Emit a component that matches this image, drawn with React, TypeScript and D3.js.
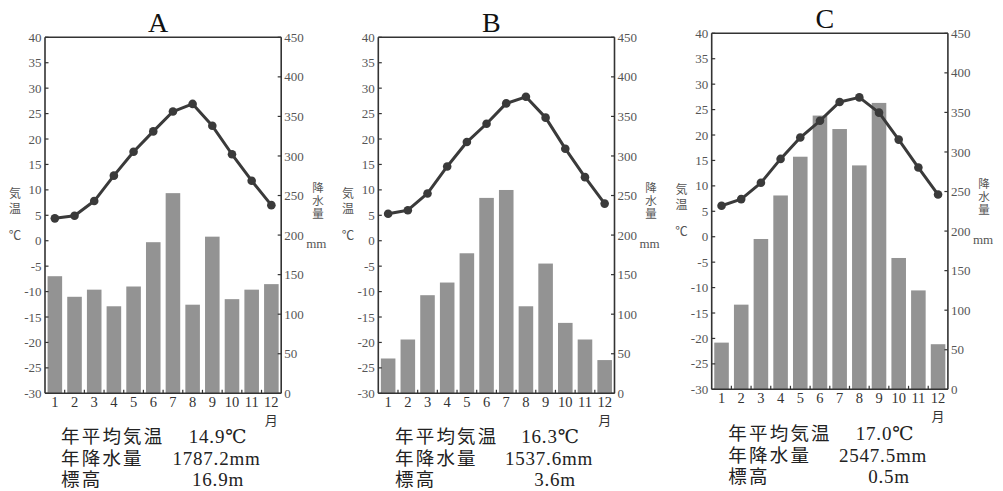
import React from 'react';
import * as d3 from 'd3';

const months = ['1', '2', '3', '4', '5', '6', '7', '8', '9', '10', '11', '12'];
const panelNames = ['A', 'B', 'C'];

const tempA = [4.4, 4.9, 7.8, 12.8, 17.5, 21.5, 25.4, 26.9, 22.6, 17.0, 11.8, 7.0];
const precipA = [148, 122, 131, 110, 135, 191, 253, 112, 198, 119, 131, 138];
const tempB = [5.3, 6.0, 9.3, 14.6, 19.4, 23.0, 27.0, 28.3, 24.2, 18.1, 12.5, 7.3];
const precipB = [44, 68, 124, 140, 177, 247, 257, 110, 164, 89, 68, 42];
const tempC = [6.1, 7.4, 10.6, 15.3, 19.5, 22.8, 26.5, 27.4, 24.4, 19.1, 13.6, 8.3];
const precipC = [59, 107, 190, 245, 294, 346, 329, 283, 362, 166, 125, 57];

const tempTicks = [-30, -25, -20, -15, -10, -5, 0, 5, 10, 15, 20, 25, 30, 35, 40];
const precipTicks = [0, 50, 100, 150, 200, 250, 300, 350, 400, 450];

const summaryLabels = ['年平均気温', '年降水量', '標高'];
const meanTemps = ['14.9℃', '16.3℃', '17.0℃'];
const annualPrecips = ['1787.2mm', '1537.6mm', '2547.5mm'];
const elevations = ['16.9m', '3.6m', '0.5m'];
const tempName = ['気', '温'];
const precipName = ['降', '水', '量'];

const temps = [tempA, tempB, tempC];
const precips = [precipA, precipB, precipC];

// layout (positions only)
const layouts = [
  { left: 45, top: 37.3, titleY: 32, rightLabelX: 318, leftLabelX: 15, textX: 61, valueCX: [218, 216.5, 218], textY: [436, 458, 479] },
  { left: 378.3, top: 37.3, titleY: 32, rightLabelX: 651, leftLabelX: 348, textX: 395, valueCX: [550.5, 549, 555], textY: [436.5, 458, 479] },
  { left: 711.7, top: 33.3, titleY: 27.5, rightLabelX: 984, leftLabelX: 681.5, textX: 728.3, valueCX: [885, 883, 889], textY: [433.5, 455, 476] },
];
const plotW = 236.2;
const plotH = 356;

const serif = '"Liberation Serif", "DejaVu Serif", "Noto Sans CJK JP", serif';
const cjk = '"Noto Sans CJK JP", "Liberation Serif", serif';

function Panel({ idx }: { idx: number }) {
  const L = layouts[idx];
  const x0 = L.left;
  const x1 = L.left + plotW;
  const y0 = L.top;
  const y1 = L.top + plotH;
  const x = d3.scaleBand<string>().domain(months).range([x0, x1]).paddingInner(0.26).paddingOuter(0.13);
  const step = plotW / months.length;
  const yT = d3.scaleLinear().domain([-30, 40]).range([y1, y0]);
  const yP = d3.scaleLinear().domain([0, 450]).range([y1, y0]);
  const line = d3
    .line<number>()
    .x((_, i) => (x(months[i]) as number) + x.bandwidth() / 2)
    .y((d) => yT(d));
  const axisColor = '#333';
  const tickColor = '#555';
  const t = temps[idx];
  const p = precips[idx];
  return (
    <g>
      <text x={(x0 + x1) / 2 - 5} y={L.titleY} textAnchor="middle" fontFamily={serif} fontSize={28} fill="#111">
        {panelNames[idx]}
      </text>
      {p.map((v, i) => (
        <rect key={'b' + i} x={x(months[i])} y={yP(v)} width={x.bandwidth()} height={y1 - yP(v)} fill="#939393" />
      ))}
      <path d={line(t) || ''} fill="none" stroke="#3a3a3a" strokeWidth={3} strokeLinejoin="round" />
      {t.map((v, i) => (
        <circle key={'c' + i} cx={(x(months[i]) as number) + x.bandwidth() / 2} cy={yT(v)} r={4.3} fill="#3a3a3a" />
      ))}
      {/* frame */}
      <line x1={x0} x2={x1} y1={y0} y2={y0} stroke={axisColor} strokeWidth={1.6} />
      <line x1={x0} x2={x0} y1={y0} y2={y1} stroke={axisColor} strokeWidth={1.6} />
      <line x1={x1} x2={x1} y1={y0} y2={y1} stroke={axisColor} strokeWidth={1.6} />
      <line x1={x0} x2={x1} y1={y1} y2={y1} stroke={axisColor} strokeWidth={1.6} />
      {/* left ticks */}
      {tempTicks.map((v) => (
        <g key={'lt' + v}>
          <line x1={x0} x2={x0 + 3.5} y1={yT(v)} y2={yT(v)} stroke={axisColor} strokeWidth={1.2} />
          <text x={x0 - 3.5} y={yT(v)} dy="0.35em" textAnchor="end" fontFamily={serif} fontSize={13} fill={tickColor}>
            {v}
          </text>
        </g>
      ))}
      {/* right ticks */}
      {precipTicks.map((v) => (
        <g key={'rt' + v}>
          <line x1={x1 - 3.5} x2={x1} y1={yP(v)} y2={yP(v)} stroke={axisColor} strokeWidth={1.2} />
          <text x={x1 + 3} y={yP(v)} dy="0.35em" textAnchor="start" fontFamily={serif} fontSize={13} fill={tickColor}>
            {v}
          </text>
        </g>
      ))}
      {/* bottom ticks */}
      {months.slice(1).map((m, i) => (
        <line key={'bt' + m} x1={x0 + step * (i + 1)} x2={x0 + step * (i + 1)} y1={y1} y2={y1 - 3.5} stroke={axisColor} strokeWidth={1.2} />
      ))}
      {months.map((m) => (
        <text key={'xl' + m} x={(x(m) as number) + x.bandwidth() / 2} y={y1 + 9} dy="0.35em" textAnchor="middle" fontFamily={serif} fontSize={14.5} fill="#333">
          {m}
        </text>
      ))}
      <text x={(x(months[11]) as number) + x.bandwidth() / 2} y={y1 + 27} dy="0.35em" textAnchor="middle" fontFamily={cjk} fontSize={13} fill="#333">
        月
      </text>
      {/* axis names */}
      {tempName.map((c, i) => (
        <text key={'tn' + i} x={L.leftLabelX} y={yT(10) + 3.5 + i * 15.5} dy="0.35em" textAnchor="middle" fontFamily={cjk} fontSize={12} fill={tickColor}>
          {c}
        </text>
      ))}
      <text x={L.leftLabelX} y={yT(0) - 5.5} dy="0.35em" textAnchor="middle" fontFamily={cjk} fontSize={12.5} fill={tickColor}>
        ℃
      </text>
      {precipName.map((c, i) => (
        <text key={'pn' + i} x={L.rightLabelX} y={yP(250) - 7.5 + i * 13} dy="0.35em" textAnchor="middle" fontFamily={cjk} fontSize={11.5} fill={tickColor}>
          {c}
        </text>
      ))}
      <text x={x1 + 25} y={yP(200) + 8} dy="0.35em" textAnchor="start" fontFamily={serif} fontSize={13} fill={tickColor}>
        mm
      </text>
      {/* summary */}
      {summaryLabels.map((s, i) => (
        <text key={'sl' + i} x={L.textX} y={L.textY[i]} dy="0.36em" fontFamily={cjk} fontSize={18.5} letterSpacing={2.2} fill="#222">
          {s}
        </text>
      ))}
      {[meanTemps[idx], annualPrecips[idx], elevations[idx]].map((s, i) => (
        <text key={'sv' + i} x={L.valueCX[i]} y={L.textY[i]} dy="0.36em" textAnchor="middle" fontFamily={serif} fontSize={19} letterSpacing={0.8} fill="#222">
          {s}
        </text>
      ))}
    </g>
  );
}

export default function App() {
  return (
    <svg width={1003} height={491} style={{ position: 'absolute', left: 0, top: 0, background: '#fff' }}>
      <rect width={1003} height={491} fill="#fff" />
      {panelNames.map((_, i) => (
        <Panel key={i} idx={i} />
      ))}
    </svg>
  );
}
